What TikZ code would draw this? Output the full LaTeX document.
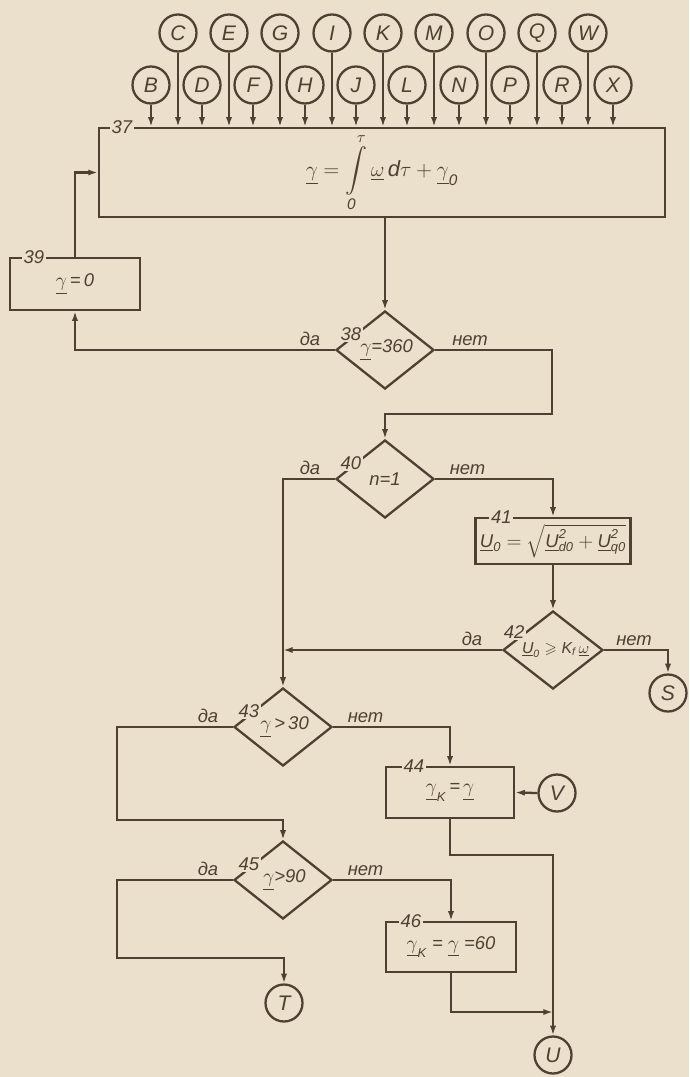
\documentclass[tikz,border=0pt]{standalone}
\usepackage{amsmath,amssymb}
\usepackage{fontspec}
\setmainfont{Liberation Sans}
\usetikzlibrary{shapes.geometric, arrows.meta, calc}
\definecolor{paper}{RGB}{234,224,203}
\definecolor{ink}{RGB}{78,64,50}
\newcommand{\ug}{\underline{\gamma}}
\newcommand{\uw}{\underline{\omega}}
\newcommand{\uU}{\underline{\textit{U}}}
\begin{document}
\begin{tikzpicture}[
    x=0.02cm, y=-0.02cm, color=ink, line width=1.3pt,
    font=\fontsize{10.5}{12}\selectfont\itshape,
    block/.style={rectangle, draw, inner sep=2pt},
    cond/.style={diamond, draw, aspect=1.26, inner sep=0pt, minimum width=1.96cm, minimum height=1.56cm},
    circ/.style={circle, draw, minimum size=0.74cm, inner sep=0pt, font=\fontsize{12}{14}\selectfont\itshape},
    num/.style={fill=paper, inner sep=1pt},
    ans/.style={inner sep=2pt},
    arrow/.style={-{Latex[length=5.5pt,width=3.5pt]}}
]

\fill[paper] (0,0) rectangle (689,1077);

% Inputs, upper row
\node[circ] (C) at (178,33) {C};
\node[circ] (E) at (229,33) {E};
\node[circ] (G) at (280,33) {G};
\node[circ] (I) at (332,33) {I};
\node[circ] (K) at (383,33) {K};
\node[circ] (M) at (434,33) {M};
\node[circ] (O) at (486,33) {O};
\node[circ] (Q) at (537,33) {Q};
\node[circ] (W) at (588,33) {W};

% Inputs, lower row
\node[circ] (B) at (151,85) {B};
\node[circ] (D) at (202,85) {D};
\node[circ] (F) at (253,85) {F};
\node[circ] (H) at (305,85) {H};
\node[circ] (J) at (356,85) {J};
\node[circ] (L) at (407,85) {L};
\node[circ] (N) at (459,85) {N};
\node[circ] (P) at (510,85) {P};
\node[circ] (R) at (562,85) {R};
\node[circ] (X) at (613,85) {X};

% Blocks
\node[block, minimum width=11.32cm, minimum height=1.78cm, font=\fontsize{12.5}{14}\selectfont\itshape] (blk37) at (382,172.5)
    {$\displaystyle \ug=\int\limits_{\textit{0}}^{\tau}\uw\,\textit{d}\tau+\ug_{\textit{0}}$};
\node[block, minimum width=2.6cm, minimum height=1.04cm] (blk39) at (75,284) {$\ug$\,=\,0};
\node[block, minimum width=3.1cm, minimum height=0.92cm] (blk41) at (553,541)
    {$\uU_{\textit{0}}=\sqrt{\uU_{\textit{d0}}^{\textit{2}}+\uU_{\textit{q0}}^{\textit{2}}}$};
\node[block, minimum width=2.56cm, minimum height=1.02cm] (blk44) at (450,792.5) {$\ug_{\textit{K}}$\,=\,$\ug$};
\node[block, minimum width=2.6cm, minimum height=1.0cm] (blk46) at (451,947) {$\ug_{\textit{K}}$ = $\ug$ =60};

% Conditions
\node[cond] (d38) at (385,350) {\raisebox{-3pt}{\,$\ug$=360}};
\node[cond] (d40) at (385,479) {\raisebox{-2pt}{n=1}};
\node[cond, minimum width=2cm, font=\fontsize{9}{11}\selectfont\itshape] (d42) at (553,650)
    {\raisebox{-4pt}{\,\,$\uU_{\textit{0}}\geqslant\textit{K}_{\textit{f}}\,\uw$}};
\node[cond] (d43) at (283,727) {\raisebox{-2pt}{\,$\ug$\,>\,30}};
\node[cond] (d45) at (283,880) {\raisebox{-2pt}{\,$\ug$>90}};

% Connectors
\node[circ] (S) at (668,693) {S};
\node[circ] (V) at (557,793) {V};
\node[circ] (T) at (284,1003) {T};
\node[circ] (U) at (553,1055) {U};

% Numbers
\node[num] (n37) at ($(blk37.north west)+(24,0)$) {37};
\node[num] (n39) at ($(blk39.north west)+(25,0)$) {39};
\node[num] (n41) at ($(blk41.north west)+(27,0)$) {41};
\node[num] (n44) at ($(blk44.north west)+(29,0)$) {44};
\node[num] (n46) at ($(blk46.north west)+(26,0)$) {46};
\node[num] (n38) at ($(d38.west)!0.32!(d38.north)+(0,-3)$) {38};
\node[num] (n40) at ($(d40.west)!0.32!(d40.north)+(0,-3)$) {40};
\node[num] (n42) at ($(d42.west)!0.3!(d42.north)+(-3,-6)$) {42};
\node[num] (n43) at ($(d43.west)!0.32!(d43.north)+(0,-3)$) {43};
\node[num] (n45) at ($(d45.west)!0.32!(d45.north)+(0,-3)$) {45};

% Answers
\node[ans, above left, xshift=-0.2cm] (da38) at (d38.west) {да};
\node[ans, above right, xshift=0.25cm] (net38) at (d38.east) {нет};
\node[ans, above left, xshift=-0.2cm] (da40) at (d40.west) {да};
\node[ans, above right, xshift=0.2cm] (net40) at (d40.east) {нет};
\node[ans, above left, xshift=-0.3cm] (da42) at (d42.west) {да};
\node[ans, above right, xshift=0.15cm] (net42) at (d42.east) {нет};
\node[ans, above left, xshift=-0.2cm] (da43) at (d43.west) {да};
\node[ans, above right, xshift=0.2cm] (net43) at (d43.east) {нет};
\node[ans, above left, xshift=-0.2cm] (da45) at (d45.west) {да};
\node[ans, above right, xshift=0.2cm] (net45) at (d45.east) {нет};

% Bends
\coordinate (c38) at (552,414);
\coordinate (c43) at (117,820);
\coordinate (c44) at (450,855);
\coordinate (c45) at (117,958);
\coordinate (c46) at (451,1012);

% Arrows into 37
\draw[arrow] (B) -- (B |- blk37.north); \draw[arrow] (C) -- (C |- blk37.north);
\draw[arrow] (D) -- (D |- blk37.north); \draw[arrow] (E) -- (E |- blk37.north);
\draw[arrow] (F) -- (F |- blk37.north); \draw[arrow] (G) -- (G |- blk37.north);
\draw[arrow] (H) -- (H |- blk37.north); \draw[arrow] (I) -- (I |- blk37.north);
\draw[arrow] (J) -- (J |- blk37.north); \draw[arrow] (K) -- (K |- blk37.north);
\draw[arrow] (L) -- (L |- blk37.north); \draw[arrow] (M) -- (M |- blk37.north);
\draw[arrow] (N) -- (N |- blk37.north); \draw[arrow] (O) -- (O |- blk37.north);
\draw[arrow] (P) -- (P |- blk37.north); \draw[arrow] (Q) -- (Q |- blk37.north);
\draw[arrow] (R) -- (R |- blk37.north); \draw[arrow] (W) -- (W |- blk37.north);
\draw[arrow] (X) -- (X |- blk37.north);

% Flow
\draw[arrow] (d38 |- blk37.south) -- (d38.north);
\draw[arrow] (d38.west) -| (blk39.south);
\draw[arrow] (blk39.north) |- (blk37.west);
\draw[arrow] (d38.east) -| (c38) -| (d40.north);
\draw[arrow] (d40.east) -| (blk41.north);
\draw[arrow] (d40.west) -| (d43.north);
\draw[arrow] (blk41.south) -- (d42.north);
\draw[arrow] (d42.west) -- (d42.west -| d43.north);
\draw[arrow] (d42.east) -| (S.north);
\draw[arrow] (d43.east) -| (blk44.north);
\draw[arrow] (d43.west) -| (c43) -| (d45.north);
\draw[arrow] (V.west) -- (blk44.east);
\draw[arrow] (blk44.south) -- (c44) -| (U.north);
\draw[arrow] (d45.west) -| (c45) -| (T.north);
\draw[arrow] (d45.east) -| (blk46.north);
\draw[arrow] (blk46.south) -- (c46) -- (c46 -| U.north);

\end{tikzpicture}
\end{document}
